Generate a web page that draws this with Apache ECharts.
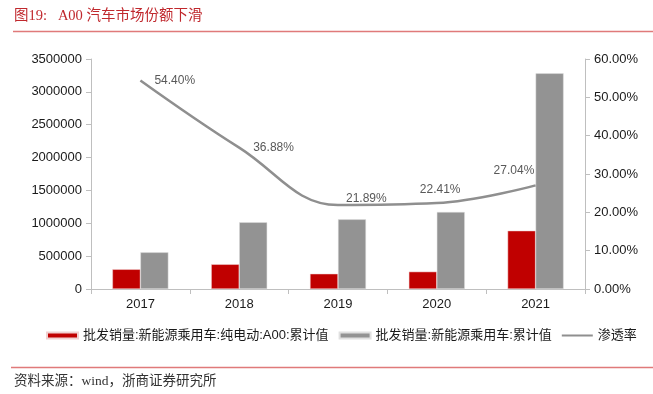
<!DOCTYPE html>
<html><head><meta charset="utf-8">
<script src="https://cdn.jsdelivr.net/npm/echarts@6/dist/echarts.min.js"></script>
<style>html,body{margin:0;padding:0;background:#fff}#c{width:653px;height:394px}</style>
</head><body><div id="c"></div>
<script>
const categories = ['2017','2018','2019','2020','2021'];
const a00Sales = [300000, 376000, 232000, 264000, 887000];
const nevSales = [558000, 1015000, 1060000, 1172000, 3282000];
const penetration = [54.40, 36.88, 21.89, 22.41, 27.04];
const leftTicks = [0, 3500000, 500000];
const rightTicks = [0, 60, 10];
const seriesNames = ['批发销量:新能源乘用车:纯电动:A00:累计值','批发销量:新能源乘用车:累计值','渗透率'];
const titleText = '图19:   A00 汽车市场份额下滑';
const sourceText = '资料来源：wind，浙商证券研究所';

const labelOffsets = [[2,0],[2,0],[-4,-6],[-29,-13],[-54,-15]];

const chart = echarts.init(document.getElementById('c'));
const axisFont = {fontFamily:'Liberation Sans, Arial, sans-serif', fontSize:13, color:'#1a1a1a'};
chart.setOption({
  animation:false,
  grid:{left:91,right:68,top:59,bottom:105},
  graphic:[
    {type:'text',left:14,top:9,style:{text:titleText,fill:'#C0282D',font:'14.5px "Liberation Serif", "Noto Sans CJK SC", serif'}},
    {type:'line',shape:{x1:13,y1:31.5,x2:653,y2:31.5},style:{stroke:'#E07A7A',lineWidth:1.5}},
    {type:'line',shape:{x1:11,y1:367.5,x2:653,y2:367.5},style:{stroke:'#E07A7A',lineWidth:1.5}},
    {type:'text',left:14,top:375,style:{text:sourceText,fill:'#333',font:'13.5px "Liberation Serif", "Noto Sans CJK SC", serif'}}
  ],
  legend:{
    bottom:47,left:41,itemGap:10,itemWidth:31,itemHeight:6,
    textStyle:{fontFamily:'Liberation Sans, "Noto Sans CJK SC", sans-serif',fontSize:13,color:'#1a1a1a'},
    data:[
      {name:seriesNames[0],icon:'rect'},
      {name:seriesNames[1],icon:'rect'},
      {name:seriesNames[2],icon:'path://M0,0 L31,0 L31,2 L0,2 Z'}
    ]
  },
  xAxis:{type:'category',data:categories,
    axisLine:{lineStyle:{color:'#BFBFBF',width:1}},
    axisTick:{show:true,alignWithLabel:false,length:5,lineStyle:{color:'#BFBFBF'}},
    axisLabel:Object.assign({margin:9},axisFont)},
  yAxis:[
    {type:'value',min:leftTicks[0],max:leftTicks[1],interval:leftTicks[2],
     axisLine:{show:true,lineStyle:{color:'#BFBFBF'}},
     axisTick:{show:true,length:5,lineStyle:{color:'#BFBFBF'}},
     splitLine:{show:false},
     axisLabel:Object.assign({margin:9,formatter:v=>String(v)},axisFont)},
    {type:'value',min:rightTicks[0],max:rightTicks[1],interval:rightTicks[2],position:'right',
     axisLine:{show:true,lineStyle:{color:'#BFBFBF'}},
     axisTick:{show:true,length:5,lineStyle:{color:'#BFBFBF'}},
     splitLine:{show:false},
     axisLabel:Object.assign({margin:9,formatter:v=>v.toFixed(2)+'%'},axisFont)}
  ],
  series:[
    {name:seriesNames[0],type:'bar',data:a00Sales,barWidth:28,barGap:'0%',
     itemStyle:{color:'#C00000',borderColor:'#f0d0d0',borderWidth:0.5}},
    {name:seriesNames[1],type:'bar',data:nevSales,barWidth:28,barGap:'0%',
     itemStyle:{color:'#939393',borderColor:'#e0e0e0',borderWidth:0.5}},
    {name:seriesNames[2],type:'line',yAxisIndex:1,smooth:0.4,symbol:'circle',symbolSize:0,showSymbol:true,
     lineStyle:{color:'#8F8F8F',width:2.5},itemStyle:{color:'#8F8F8F'},
     label:{show:true,position:'right',distance:12,formatter:p=>p.value.toFixed(2)+'%',
        color:'#595959',fontSize:12,fontFamily:'Liberation Sans, Arial, sans-serif'},
     data:penetration.map((v,i)=>({value:v,label:{offset:labelOffsets[i]}}))}
  ]
});
</script></body></html>
